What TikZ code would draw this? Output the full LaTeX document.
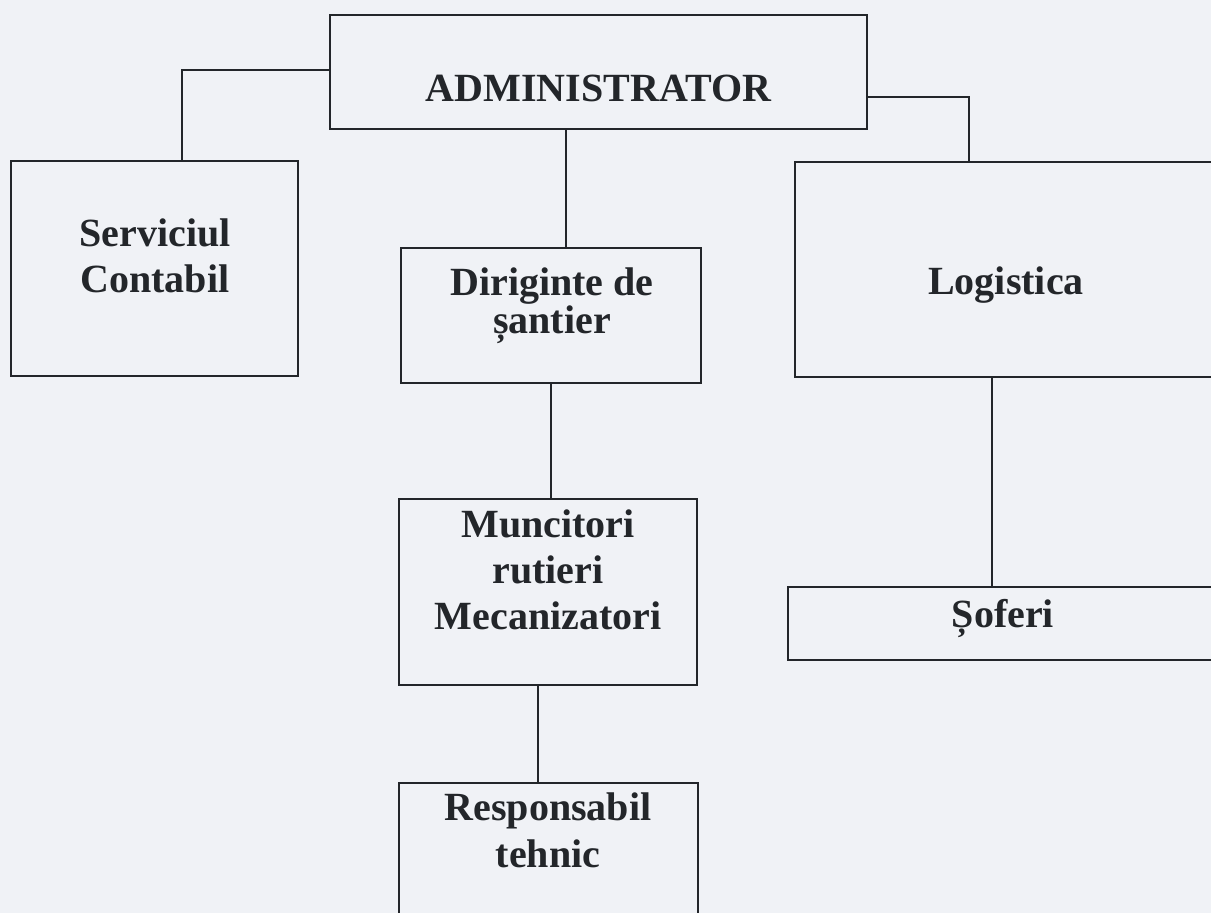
\documentclass[tikz,border=0pt]{standalone}
\usepackage{fontspec}
\setmainfont{Liberation Serif}
\definecolor{paper}{RGB}{240,242,246}
\definecolor{ink}{RGB}{35,38,42}
\begin{document}
\begin{tikzpicture}[x=1pt,y=-1pt,
  box/.style={draw=ink,line width=1.8pt,inner sep=0pt,outer sep=0pt},
  lbl/.style={font=\fontsize{40}{46}\selectfont\bfseries,text=ink,anchor=base,inner sep=0pt},
  link/.style={draw=ink,line width=1.8pt}]
\useasboundingbox (0,0) rectangle (1211,913);
\fill[paper] (0,0) rectangle (1211,913);
\clip (0,0) rectangle (1211,913);
% boxes
\node[box,minimum width=537pt,minimum height=114pt] (admin) at (598.5,72) {};
\node[box,minimum width=287pt,minimum height=215pt] (serv) at (154.5,268.5) {};
\node[box,minimum width=300pt,minimum height=135pt] (dir) at (551,315.5) {};
\node[box,minimum width=430pt,minimum height=215pt] (logi) at (1010,269.5) {};
\node[box,minimum width=298pt,minimum height=186pt] (munc) at (548,592) {};
\node[box,minimum width=437pt,minimum height=73pt] (sofer) at (1006.5,623.5) {};
\node[box,minimum width=299pt,minimum height=160pt] (resp) at (548.5,863) {};
% labels
\node[lbl] (tadmin) at (598.5,101) {ADMINISTRATOR};
\node[lbl] (tserv1) at (155,246) {Serviciul};
\node[lbl] (tserv2) at (155,292) {Contabil};
\node[lbl] (tdir1) at (552,295) {Diriginte de};
\node[lbl] (tdir2) at (552,333) {șantier};
\node[lbl] (tlogi) at (1006,294) {Logistica};
\node[lbl] (tmunc1) at (548,537) {Muncitori};
\node[lbl] (tmunc2) at (548,583) {rutieri};
\node[lbl] (tmunc3) at (548,629) {Mecanizatori};
\node[lbl] (tsofer) at (1003,627) {Șoferi};
\node[lbl] (tresp1) at (548,820) {Responsabil};
\node[lbl] (tresp2) at (548,867) {tehnic};
% connectors
\coordinate (c1) at (182,70);
\draw[link] (c1 -| admin.west) -- (c1) -- (c1 |- serv.north);
\coordinate (c2) at (969,97);
\draw[link] (c2 -| admin.east) -- (c2) -- (c2 |- logi.north);
\coordinate (c3) at (566,200);
\draw[link] (c3 |- admin.south) -- (c3 |- dir.north);
\coordinate (c4) at (551,440);
\draw[link] (c4 |- dir.south) -- (c4 |- munc.north);
\coordinate (c5) at (992,480);
\draw[link] (c5 |- logi.south) -- (c5 |- sofer.north);
\coordinate (c6) at (538,730);
\draw[link] (c6 |- munc.south) -- (c6 |- resp.north);
\end{tikzpicture}
\end{document}
